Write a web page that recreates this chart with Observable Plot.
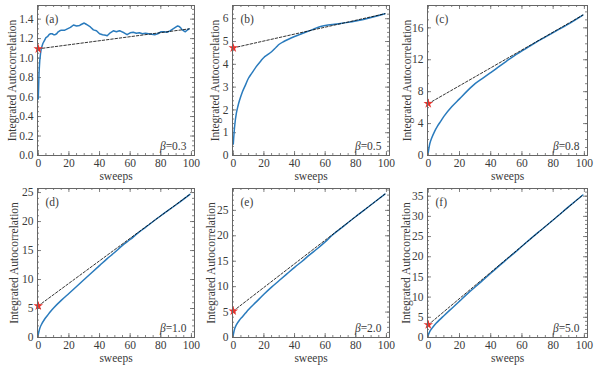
<!DOCTYPE html>
<html><head><meta charset="utf-8">
<script src="https://cdn.jsdelivr.net/npm/d3@7"></script>
<script src="https://cdn.jsdelivr.net/npm/@observablehq/plot@0.6"></script>
<style>
body{margin:0;background:#fff;}
#chart{position:relative;width:598px;height:368px;overflow:hidden;}
#chart svg{position:absolute;left:0;top:0;}
</style></head><body><div id="chart"></div>
<script>
// ---------- data ----------
const panelLetters = ["(a)", "(b)", "(c)", "(d)", "(e)", "(f)"];
const betaValues = ["0.3", "0.5", "0.8", "1.0", "2.0", "5.0"];
const xTickValues = [0, 20, 40, 60, 80, 100];

const sweepsA = [0,0.5,1,1.5,2,3,4,5,6,7,8,9,10,11,12,13,14,15,17,19,21,23,25,27,28,30,31,32,34,36,38,40,42,44,45,47,49,51,53,54,56,58,60,62,64,66,68,70,72,74,76,78,80,82,84,86,88,90,91,92,93,94,95,96,97,98.5];
const autocorrA = [0.58,0.85,0.98,1.05,1.10,1.15,1.18,1.21,1.22,1.24,1.25,1.25,1.24,1.24,1.25,1.27,1.28,1.285,1.285,1.30,1.315,1.34,1.33,1.335,1.345,1.36,1.35,1.34,1.32,1.29,1.28,1.25,1.24,1.235,1.23,1.26,1.28,1.27,1.28,1.275,1.26,1.24,1.26,1.265,1.255,1.26,1.25,1.255,1.25,1.245,1.24,1.25,1.27,1.27,1.265,1.28,1.30,1.32,1.33,1.325,1.31,1.29,1.28,1.27,1.285,1.30];
const fitSweepsA = [0, 98.5];
const fitA = [1.095, 1.30];
const yTicksA = [0, 0.2, 0.4, 0.6, 0.8, 1.0, 1.2, 1.4];

const sweepsB = [0,1,2,3,4,6,8,10,12,15,18,20,22,25,28,30,33,36,40,45,50,53,56,60,65,70,75,80,85,90,95,99];
const autocorrB = [0.5,1.35,1.85,2.15,2.4,2.8,3.1,3.4,3.6,3.9,4.15,4.3,4.4,4.55,4.75,4.88,5.0,5.1,5.22,5.35,5.48,5.56,5.64,5.7,5.75,5.79,5.84,5.9,5.97,6.05,6.14,6.22];
const fitSweepsB = [0, 99];
const fitB = [4.72, 6.22];
const yTicksB = [0, 1, 2, 3, 4, 5, 6];

const sweepsC = [0,1,2,4,6,8,10,15,20,25,30,35,40,45,50,55,60,65,70,80,90,99];
const autocorrC = [0.4,1.5,2.1,3.0,3.7,4.3,4.9,6.1,7.1,8.1,9.0,9.7,10.4,11.1,11.8,12.5,13.1,13.7,14.3,15.4,16.5,17.6];
const fitSweepsC = [0, 99];
const fitC = [6.5, 17.6];
const yTicksC = [0, 4, 8, 12, 16];

const sweepsD = [0,1,2,4,6,8,10,15,20,25,30,35,40,45,50,55,60,65,70,80,90,99];
const autocorrD = [0.5,1.6,2.2,3.1,3.8,4.5,5.1,6.4,7.6,8.8,10.0,11.2,12.4,13.6,14.7,15.9,16.9,18.0,19.0,21.0,22.9,24.7];
const fitSweepsD = [0, 99];
const fitD = [5.45, 24.7];
const yTicksD = [0, 5, 10, 15, 20, 25];

const sweepsE = [0,1,2,4,6,8,10,15,20,25,30,35,40,45,50,55,60,65,70,80,90,99];
const autocorrE = [0.5,1.8,2.5,3.4,4.1,4.8,5.5,7.0,8.5,9.9,11.2,12.5,13.8,15.0,16.3,17.5,18.8,20.2,21.4,23.8,26.1,28.2];
const fitSweepsE = [0, 99];
const fitE = [5.2, 28.2];
const yTicksE = [0, 5, 10, 15, 20, 25];

const sweepsF = [0,1,2,3,5,7,10,15,20,25,30,35,40,45,50,55,60,70,80,90,99];
const autocorrF = [0.6,1.5,2.1,2.6,3.5,4.3,5.4,7.2,9.0,10.8,12.5,14.2,15.9,17.6,19.3,20.9,22.6,25.9,29.1,32.4,35.3];
const fitSweepsF = [0, 99];
const fitF = [3.15, 35.3];
const yTicksF = [0, 5, 10, 15, 20, 25, 30, 35];

// ---------- layout (page pixels) ----------
const W = 598, H = 368;
const FONT = "'Liberation Serif', 'Times New Roman', serif";
const BLUE = "#2a7bbd", RED = "#e8322c", FRAME = "#666", TEXT = "#3a3a3a";
const panels = [
  {sx: sweepsA, sy: autocorrA, fx: fitSweepsA, fy: fitA, yt: yTicksA, fmt: d3.format(".1f"), ymax: 1.54, yminor: 0.05, frame: [37, 194, 5, 155], lo: 30},
  {sx: sweepsB, sy: autocorrB, fx: fitSweepsB, fy: fitB, yt: yTicksB, fmt: d3.format("d"), ymax: 6.58, yminor: 0.2, frame: [232, 389, 5, 155], lo: 22},
  {sx: sweepsC, sy: autocorrC, fx: fitSweepsC, fy: fitC, yt: yTicksC, fmt: d3.format("d"), ymax: 18.8, yminor: 1, frame: [427, 587, 5, 155], lo: 25},
  {sx: sweepsD, sy: autocorrD, fx: fitSweepsD, fy: fitD, yt: yTicksD, fmt: d3.format("d"), ymax: 25.7, yminor: 1, frame: [37, 194, 188, 337], lo: 28},
  {sx: sweepsE, sy: autocorrE, fx: fitSweepsE, fy: fitE, yt: yTicksE, fmt: d3.format("d"), ymax: 29.3, yminor: 1, frame: [232, 389, 188, 337], lo: 26},
  {sx: sweepsF, sy: autocorrF, fx: fitSweepsF, fy: fitF, yt: yTicksF, fmt: d3.format("d"), ymax: 36.9, yminor: 1, frame: [427, 587, 188, 337], lo: 26}
];

const ctx = document.createElement("canvas").getContext("2d");
ctx.font = `11.5px ${FONT}`;

const chart = document.getElementById("chart");
panels.forEach((p, i) => {
  const [x0, x1, y0, y1] = p.frame;
  const ph = y1 - y0, pw = x1 - x0;
  const xMinor = d3.range(0, 100.01, 5);
  const yMinor = d3.range(0, p.ymax + 1e-9, p.yminor).map(v => +v.toFixed(4));
  const curve = p.sx.map((s, k) => ({s, v: p.sy[k]}));
  const fit = p.fx.map((s, k) => ({s, v: p.fy[k]}));
  const eqText = "=" + betaValues[i];
  const eqW = ctx.measureText(eqText).width;
  const tk = {stroke: FRAME, strokeWidth: 0.8};
  const svg = Plot.plot({
    width: W, height: H,
    marginLeft: x0, marginRight: W - x1, marginTop: y0, marginBottom: H - y1,
    style: {background: "transparent", fontFamily: FONT, fontSize: "11.5px", color: TEXT},
    x: {domain: [-0.5, 102], ticks: xTickValues, tickSize: 0, tickPadding: 3, label: "sweeps", labelAnchor: "center", labelOffset: 24, labelArrow: "none"},
    y: {domain: [0, p.ymax], ticks: p.yt, tickFormat: p.fmt, tickSize: 0, tickPadding: 4, label: "Integrated Autocorrelation", labelAnchor: "center", labelOffset: p.lo, labelArrow: "none"},
    marks: [
      Plot.tickX(xMinor, {x: d => d, insetTop: ph - 2, ...tk}),
      Plot.tickX(xMinor, {x: d => d, insetBottom: ph - 2, ...tk}),
      Plot.tickX(xTickValues, {x: d => d, insetTop: ph - 4, ...tk}),
      Plot.tickX(xTickValues, {x: d => d, insetBottom: ph - 4, ...tk}),
      Plot.tickY(yMinor, {y: d => d, insetRight: pw - 2, ...tk}),
      Plot.tickY(yMinor, {y: d => d, insetLeft: pw - 2, ...tk}),
      Plot.tickY(p.yt, {y: d => d, insetRight: pw - 4, ...tk}),
      Plot.tickY(p.yt, {y: d => d, insetLeft: pw - 4, ...tk}),
      Plot.line(curve, {x: "s", y: "v", stroke: BLUE, strokeWidth: 1.5, curve: i === 0 ? "linear" : "catmull-rom"}),
      Plot.line(fit, {x: "s", y: "v", stroke: "#000", strokeWidth: 0.8, strokeDasharray: "2.5,1.8"}),
      Plot.dot([fit[0]], {x: "s", y: "v", symbol: "star", r: 3, fill: RED, stroke: "none"}),
      Plot.text([panelLetters[i]], {frameAnchor: "top-left", dx: 8, dy: 9, lineAnchor: "top", textAnchor: "start", fontSize: 11.5, fill: TEXT}),
      Plot.text([eqText], {frameAnchor: "bottom-right", dx: -8, dy: -6, lineAnchor: "bottom", textAnchor: "end", fontSize: 11.5, fill: TEXT}),
      Plot.text(["β"], {frameAnchor: "bottom-right", dx: -8 - eqW, dy: -6, lineAnchor: "bottom", textAnchor: "end", fontSize: 11.5, fontStyle: "italic", fill: TEXT}),
      Plot.frame({stroke: FRAME, strokeWidth: 1})
    ]
  });
  chart.appendChild(svg);
});
</script></body></html>
